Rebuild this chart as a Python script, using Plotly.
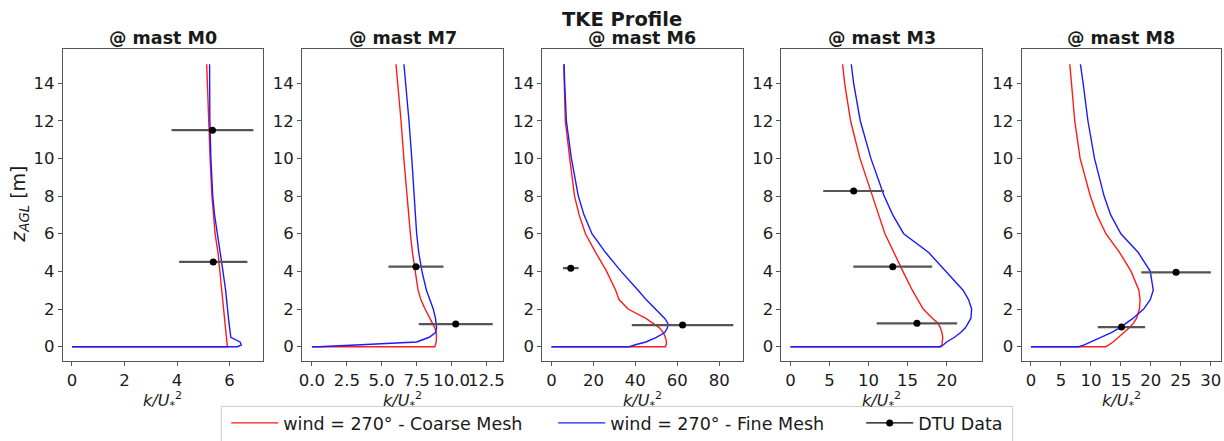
import plotly.graph_objects as go

W, H = 1224, 441

# ---------------- data ----------------
Z = [0.0, 0.0, 0.1, 0.25, 0.5, 0.75, 1.0, 1.25, 1.5, 2.0, 2.5, 3.0, 4.0, 5.0, 6.0, 7.0, 8.0, 10.0, 12.0, 14.0, 15.0]

masts = ["M0", "M7", "M6", "M3", "M8"]

m0_coarse = [0, 5.92, 5.91, 5.90, 5.88, 5.86, 5.84, 5.82, 5.80, 5.77, 5.74, 5.71, 5.64, 5.56, 5.45, 5.38, 5.33, 5.26, 5.20, 5.15, 5.13]
m0_fine = [0, 6.30, 6.45, 6.40, 6.05, 6.02, 6.00, 5.98, 5.96, 5.93, 5.89, 5.85, 5.75, 5.64, 5.53, 5.43, 5.36, 5.29, 5.25, 5.24, 5.24]

m7_coarse = [0, 8.80, 8.85, 8.90, 8.92, 8.90, 8.80, 8.65, 8.45, 8.10, 7.80, 7.60, 7.38, 7.20, 7.05, 6.92, 6.79, 6.58, 6.38, 6.15, 6.02]
m7_fine = [0, 0.5, 3.5, 7.5, 8.40, 8.85, 8.93, 8.90, 8.85, 8.69, 8.45, 8.20, 7.88, 7.65, 7.50, 7.42, 7.33, 7.15, 6.95, 6.72, 6.59]

m6_coarse = [0, 54.3, 54.7, 54.8, 54.3, 53.3, 51.5, 48.5, 45.0, 36.5, 32.2, 30.6, 26.3, 21.1, 16.2, 13.2, 11.0, 8.7, 6.6, 6.1, 5.9]
m6_fine = [0, 37.2, 40.0, 45.0, 50.0, 54.0, 55.3, 55.5, 54.0, 49.5, 45.1, 41.3, 33.2, 25.8, 19.3, 15.5, 12.8, 9.5, 7.1, 6.3, 6.0]

m3_coarse = [0, 19.2, 19.4, 19.45, 19.5, 19.4, 19.2, 18.9, 18.2, 17.0, 16.3, 15.6, 14.4, 13.2, 12.1, 11.3, 10.5, 8.9, 7.7, 6.94, 6.68]
m3_fine = [0, 19.2, 19.6, 20.0, 21.0, 21.8, 22.4, 22.8, 23.1, 23.2, 22.8, 22.1, 19.9, 17.7, 14.5, 13.1, 12.0, 10.3, 8.94, 8.09, 7.79]

m8_coarse = [0, 12.5, 13.0, 13.7, 14.6, 15.6, 16.4, 17.1, 17.6, 18.1, 18.2, 18.0, 16.7, 14.8, 12.5, 11.0, 9.9, 8.2, 7.3, 6.76, 6.48]
m8_fine = [0, 8.0, 8.9, 10.0, 11.8, 13.4, 14.8, 16.0, 17.0, 18.8, 19.9, 20.4, 19.9, 17.9, 15.0, 13.3, 12.2, 10.6, 9.5, 8.7, 8.25]

coarse = [m0_coarse, m7_coarse, m6_coarse, m3_coarse, m8_coarse]
fine = [m0_fine, m7_fine, m6_fine, m3_fine, m8_fine]

# DTU measurements (height, value, x-error)
dtu_z = [[11.5, 4.5], [4.25, 1.2], [4.17, 1.15], [8.27, 4.25, 1.24], [3.95, 1.04]]
dtu_k = [[5.35, 5.38], [7.45, 10.3], [9.2, 62.5], [8.1, 13.1, 16.2], [24.2, 15.1]]
dtu_err = [[1.56, 1.30], [1.97, 2.65], [3.7, 24.2], [3.9, 5.05, 5.15], [5.8, 3.95]]

# axis ticks
x_tickvals = [[0, 2, 4, 6],
              [0, 2.5, 5, 7.5, 10, 12.5],
              [0, 20, 40, 60, 80],
              [0, 5, 10, 15, 20],
              [0, 5, 10, 15, 20, 25, 30]]
x_ticktext = [["0", "2", "4", "6"],
              ["0.0", "2.5", "5.0", "7.5", "10.0", "12.5"],
              ["0", "20", "40", "60", "80"],
              ["0", "5", "10", "15", "20"],
              ["0", "5", "10", "15", "20", "25", "30"]]
y_tickvals = [0, 2, 4, 6, 8, 10, 12, 14]

legend_names = ["wind = 270° - Coarse Mesh", "wind = 270° - Fine Mesh", "DTU Data"]

# ---------------- layout geometry ----------------
FONT = "DejaVu Sans"
TXT = "#1a1a1a"
panel_px = [(60, 261), (300, 502), (541, 742), (781, 982), (1022, 1222)]
top_px, bot_px = 50, 367
x_ranges = [[-0.35, 7.28], [-0.71, 13.71], [-4.4, 91.1], [-1.15, 24.5], [-1.55, 31.7]]
y_range = [-0.77, 15.8]

fig = go.Figure()

for i in range(5):
    ax = "" if i == 0 else str(i + 1)
    fig.add_trace(go.Scatter(x=coarse[i], y=Z, mode="lines", line=dict(color="#ff1a1a", width=1.4),
                             name=legend_names[0], showlegend=False, xaxis="x" + ax, yaxis="y" + ax))
    fig.add_trace(go.Scatter(x=fine[i], y=Z, mode="lines", line=dict(color="#1a1aff", width=1.4),
                             name=legend_names[1], showlegend=False, xaxis="x" + ax, yaxis="y" + ax))
    fig.add_trace(go.Scatter(x=dtu_k[i], y=dtu_z[i], mode="markers",
                             marker=dict(color="black", size=7),
                             error_x=dict(type="data", array=dtu_err[i], visible=True,
                                          color="#555555", thickness=2.2, width=0),
                             name=legend_names[2], showlegend=False, xaxis="x" + ax, yaxis="y" + ax))

    l, r = panel_px[i]
    fig.layout["xaxis" + ax] = dict(
        domain=[l / W, r / W], range=x_ranges[i], anchor="y" + ax,
        tickvals=x_tickvals[i], ticktext=x_ticktext[i], tickangle=0,
        showline=True, mirror=True, linecolor="#555555", linewidth=1,
        ticks="outside", ticklen=4, tickcolor="#555555",
        showgrid=False, zeroline=False,
        tickfont=dict(family=FONT, size=16.5, color=TXT))
    fig.layout["yaxis" + ax] = dict(
        domain=[1 - bot_px / H, 1 - top_px / H], range=y_range, anchor="x" + ax,
        tickvals=y_tickvals,
        showline=True, mirror=True, linecolor="#555555", linewidth=1,
        ticks="outside", ticklen=4, tickcolor="#555555",
        showgrid=False, zeroline=False,
        tickfont=dict(family=FONT, size=16.5, color=TXT))

    cx = (l + r) / 2 / W
    fig.add_annotation(text="<b>@ mast " + masts[i] + "</b>", x=cx, y=1 - 39 / H,
                       xref="paper", yref="paper", showarrow=False, xanchor="center", yanchor="middle",
                       font=dict(family=FONT, size=17.5, color=TXT))
    fig.add_annotation(text="<i>k/U</i><sub>*</sub><sup>2</sup>", x=cx, y=1 - 407 / H,
                       xref="paper", yref="paper", showarrow=False, xanchor="center", yanchor="middle",
                       font=dict(family=FONT, size=16, color=TXT))

fig.add_annotation(text="<b>TKE Profile</b>", x=621 / W, y=1 - 20 / H, xref="paper", yref="paper",
                   showarrow=False, xanchor="center", yanchor="middle",
                   font=dict(family=FONT, size=19.5, color=TXT))
fig.add_annotation(text="<i>z<sub>AGL</sub></i> [m]", x=17 / W, y=1 - 207 / H, xref="paper", yref="paper",
                   showarrow=False, xanchor="center", yanchor="middle", textangle=-90,
                   font=dict(family=FONT, size=19, color=TXT))

# legend-only traces
fig.add_trace(go.Scatter(x=[None], y=[None], mode="lines", line=dict(color="#ff1a1a", width=1.4),
                         name=legend_names[0], legend="legend"))
fig.add_trace(go.Scatter(x=[None], y=[None], mode="lines", line=dict(color="#1a1aff", width=1.4),
                         name=legend_names[1], legend="legend2"))
fig.add_trace(go.Scatter(x=[None], y=[None], mode="lines+markers", line=dict(color="black", width=1.4),
                         marker=dict(color="black", size=7), name=legend_names[2], legend="legend3"))

leg_common = dict(orientation="h", xanchor="left", yanchor="middle", y=1 - 430 / H,
                  bgcolor="rgba(0,0,0,0)", borderwidth=0, itemwidth=47,
                  font=dict(family=FONT, size=17.5, color=TXT))
fig.update_layout(
    legend=dict(x=224 / W, **leg_common),
    legend2=dict(x=552 / W, **leg_common),
    legend3=dict(x=861 / W, **leg_common),
)

fig.add_shape(type="rect", xref="paper", yref="paper", x0=219 / W, x1=1013 / W,
              y0=-0.05, y1=1 - 413 / H, line=dict(color="#cccccc", width=1), fillcolor="rgba(0,0,0,0)")

fig.update_layout(width=W, height=H, margin=dict(l=0, r=0, t=0, b=0),
                  paper_bgcolor="white", plot_bgcolor="white",
                  font=dict(family=FONT, color=TXT))

fig.write_html("out.html", config={"displayModeBar": False},
               post_script="document.body.style.margin='0px';document.body.style.overflow='hidden';")
